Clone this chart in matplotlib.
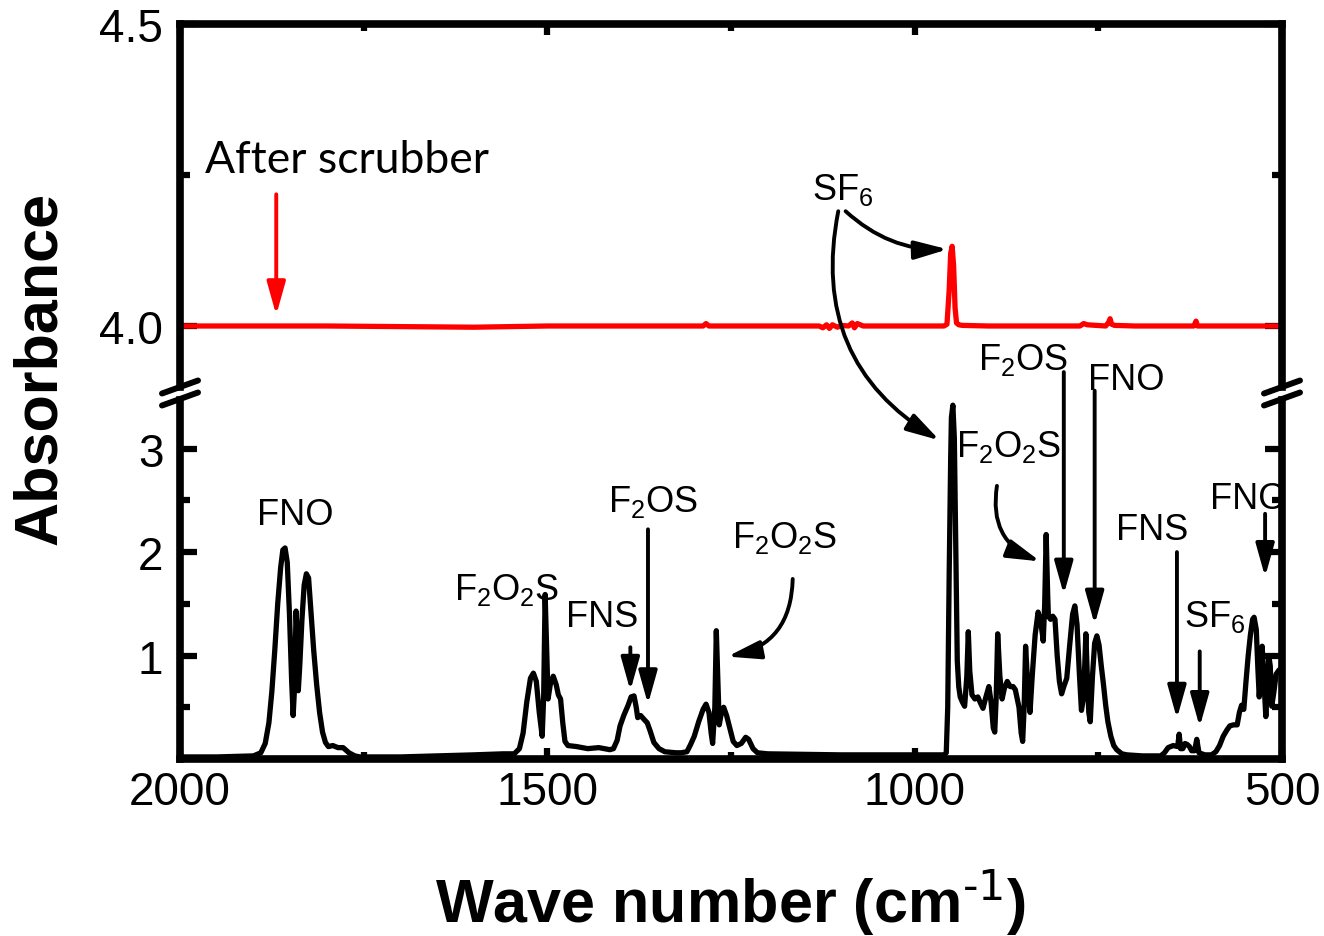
import matplotlib
matplotlib.use("Agg")
import matplotlib.pyplot as plt
from matplotlib.lines import Line2D
from matplotlib.ticker import MultipleLocator, FixedLocator, FormatStrFormatter

plt.rcParams["font.family"] = ["Liberation Sans", "DejaVu Sans"]
plt.rcParams["mathtext.default"] = "regular"

# FTIR spectrum before the scrubber (absorbance, lower segment of the axis)
wn_before = [
    2000, 1950, 1900, 1890, 1884, 1879, 1875, 1871, 1867, 1863, 1860, 1857,
    1854, 1851, 1848, 1846, 1844, 1842, 1840, 1839, 1837, 1834, 1831, 1828,
    1825, 1822, 1818, 1814, 1810, 1806, 1802, 1798, 1792, 1785, 1778, 1770,
    1762, 1755, 1700, 1650, 1600, 1560, 1545, 1538, 1533, 1528, 1523, 1519,
    1515, 1511, 1507, 1505, 1503, 1501, 1499, 1496, 1492, 1488, 1485, 1482,
    1479, 1476, 1472, 1460, 1445, 1430, 1415, 1410, 1405, 1401, 1396, 1390,
    1386, 1382, 1379, 1377, 1373, 1368, 1364, 1360, 1355, 1348, 1340, 1325,
    1318, 1310, 1305, 1300, 1294, 1288, 1284, 1280, 1277, 1275, 1272, 1270,
    1268, 1266, 1263, 1260, 1256, 1251, 1247, 1242, 1236, 1230, 1226, 1220,
    1214, 1200, 1100, 1000, 960, 957, 955, 953, 951, 950, 948, 946,
    944, 942, 940, 938, 935, 932, 929, 927, 925, 922, 918, 914,
    911, 907, 903, 899, 896, 893, 891, 889, 887, 884, 881, 878,
    874, 870, 866, 863, 858, 855, 853, 851, 849, 846, 843, 840,
    836, 832, 829, 826, 825, 823, 821, 819, 818, 815, 812, 809,
    806, 803, 800, 797, 793, 789, 785, 782, 779, 776, 773, 770,
    767, 765, 763, 761, 758, 755, 752, 749, 746, 743, 740, 737,
    733, 729, 725, 718, 711, 690, 665, 660, 655, 648, 642, 640,
    638, 635, 632, 629, 626, 623, 619, 616, 613, 605, 596, 590,
    585, 580, 575, 571, 566, 561, 558, 555, 552, 549, 546, 543,
    540, 538, 535, 533, 531, 529, 527, 525, 522, 520, 518, 516,
    514, 511, 508, 504, 500,
]
abs_before = [
    0.02, 0.02, 0.03, 0.06, 0.15, 0.35, 0.65, 1.05, 1.50, 1.85, 2.02, 2.04,
    1.90, 1.40, 0.75, 0.42, 0.70, 1.43, 1.10, 0.66, 0.90, 1.35, 1.68, 1.79,
    1.75, 1.45, 1.05, 0.72, 0.45, 0.26, 0.16, 0.12, 0.13, 0.11, 0.11, 0.06,
    0.03, 0.02, 0.02, 0.03, 0.04, 0.05, 0.05, 0.10, 0.25, 0.55, 0.78, 0.83,
    0.75, 0.45, 0.22, 0.60, 1.59, 1.10, 0.58, 0.72, 0.80, 0.72, 0.62, 0.58,
    0.35, 0.17, 0.13, 0.12, 0.10, 0.11, 0.09, 0.10, 0.18, 0.32, 0.42, 0.52,
    0.60, 0.61, 0.50, 0.40, 0.42, 0.38, 0.35, 0.27, 0.16, 0.10, 0.07, 0.06,
    0.06, 0.07, 0.14, 0.22, 0.36, 0.48, 0.53, 0.45, 0.25, 0.15, 0.50, 1.24,
    0.80, 0.33, 0.45, 0.50, 0.42, 0.28, 0.17, 0.13, 0.15, 0.21, 0.19, 0.10,
    0.06, 0.05, 0.04, 0.04, 0.04, 0.06, 0.50, 1.80, 2.90, 3.30, 3.42, 3.10,
    2.00, 0.95, 0.70, 0.60, 0.55, 0.51, 0.80, 1.23, 0.85, 0.62, 0.58, 0.60,
    0.55, 0.49, 0.60, 0.70, 0.55, 0.30, 0.26, 0.60, 1.21, 0.80, 0.58, 0.68,
    0.75, 0.70, 0.70, 0.67, 0.50, 0.25, 0.17, 0.50, 1.09, 0.70, 0.45, 0.80,
    1.20, 1.42, 1.35, 1.20, 1.14, 1.50, 2.17, 1.60, 1.38, 1.35, 1.38, 1.35,
    1.00, 0.75, 0.63, 0.70, 0.78, 1.10, 1.40, 1.48, 1.30, 0.85, 0.47, 0.60,
    1.21, 0.80, 0.45, 0.36, 0.80, 1.12, 1.19, 1.10, 0.90, 0.72, 0.52, 0.36,
    0.22, 0.13, 0.09, 0.05, 0.04, 0.03, 0.03, 0.06, 0.11, 0.13, 0.12, 0.24,
    0.10, 0.10, 0.15, 0.14, 0.12, 0.08, 0.08, 0.19, 0.06, 0.04, 0.04, 0.07,
    0.13, 0.22, 0.28, 0.32, 0.33, 0.33, 0.45, 0.52, 0.48, 0.75, 1.00, 1.20,
    1.35, 1.37, 1.25, 0.90, 0.60, 0.80, 1.09, 0.80, 0.41, 0.70, 1.00, 0.90,
    0.51, 0.65, 0.82, 0.86, 0.85,
]

# spectrum after the scrubber (upper segment of the axis)
wn_after = [
    2000, 1900, 1800, 1700, 1600, 1500, 1400, 1300, 1288, 1284, 1280, 1200,
    1130, 1125, 1120, 1116, 1112, 1105, 1100, 1090, 1085, 1082, 1078, 1070,
    960, 956, 953, 951, 949, 947, 945, 943, 940, 935, 900, 800,
    775, 770, 765, 740, 736, 734, 732, 728, 700, 620, 617, 615,
    600, 500,
]
abs_after = [
    4.000, 4.000, 4.000, 3.999, 3.998, 4.000, 4.000, 4.000, 4.000, 4.004, 4.000, 4.000,
    4.000, 3.997, 4.002, 3.996, 4.002, 3.998, 4.001, 4.000, 4.005, 3.997, 4.004, 4.000,
    4.000, 4.003, 4.060, 4.120, 4.132, 4.100, 4.030, 4.005, 4.002, 4.001, 4.000, 4.000,
    4.000, 4.004, 4.002, 4.000, 4.006, 4.012, 4.003, 4.001, 4.000, 4.000, 4.008, 4.000,
    4.000, 4.000,
]

W, H = 1324, 937
fig = plt.figure(figsize=(W / 100, H / 100), dpi=100)


def box(left, top, right, bottom):
    return [left / W, 1 - bottom / H, (right - left) / W, (bottom - top) / H]


ax_lo = fig.add_axes(box(180, 401, 1282, 760))
ax_hi = fig.add_axes(box(180, 25, 1282, 388))
for ax in (ax_lo, ax_hi):
    ax.set_facecolor("none")
    ax.set_xlim(2000, 500)
    for s in ax.spines.values():
        s.set_linewidth(5.5)
    ax.xaxis.set_major_locator(MultipleLocator(500))
    ax.xaxis.set_minor_locator(MultipleLocator(250))
    ax.tick_params(axis="both", which="both", direction="in", width=4.5,
                   labelsize=33, left=True, right=True)
    ax.tick_params(axis="y", which="major", length=12, pad=12)
    ax.tick_params(axis="y", which="minor", length=7)
    ax.tick_params(axis="x", which="major", length=8, pad=8)
    ax.tick_params(axis="x", which="minor", length=5)

ax_lo.set_ylim(0, 3.47)
ax_lo.spines["top"].set_visible(False)
ax_lo.tick_params(axis="x", which="both", top=False, bottom=True)
ax_lo.yaxis.set_major_locator(FixedLocator([1, 2, 3]))
ax_lo.yaxis.set_minor_locator(FixedLocator([0.5, 1.5, 2.5]))

ax_hi.set_ylim(3.899, 4.5)
ax_hi.spines["bottom"].set_visible(False)
ax_hi.tick_params(axis="x", which="both", top=True, bottom=False,
                  labelbottom=False)
ax_hi.yaxis.set_major_locator(FixedLocator([4.0, 4.5]))
ax_hi.yaxis.set_minor_locator(FixedLocator([4.25]))
ax_hi.yaxis.set_major_formatter(FormatStrFormatter("%.1f"))

ax_lo.plot(wn_before, abs_before, color="black", lw=3.8,
           solid_joinstyle="round", clip_on=False)
ax_hi.plot(wn_after, abs_after, color="red", lw=3.8, solid_joinstyle="round")

# axis break marks on both spines
for xc in (180, 1282):
    for yc in (388, 400):
        fig.add_artist(Line2D([(xc - 18) / W, (xc + 18) / W],
                              [1 - (yc + 6.5) / H, 1 - (yc - 6.5) / H],
                              transform=fig.transFigure, color="black",
                              lw=4.3, solid_capstyle="round"))

lab = dict(fontsize=26, ha="center", va="baseline", annotation_clip=False)
arrow = dict(arrowstyle="-|>,head_length=1.0,head_width=0.28", color="black",
             lw=2.8, shrinkA=0, shrinkB=0, mutation_scale=20)


def label(ax, text, x, y, tip=None, rad=0.0, start=None, **kw):
    ax.annotate(text, xy=(x, y), **lab, **kw)
    if tip is not None:
        ax.annotate("", xy=tip, xytext=start, annotation_clip=False,
                    arrowprops=dict(arrow,
                                    connectionstyle=f"arc3,rad={rad}"))


# lower panel labels
label(ax_lo, "FNO", 1843, 2.27)
label(ax_lo, "F$_2$O$_2$S", 1556, 1.55)
label(ax_lo, "FNS", 1426, 1.29, tip=(1387, 0.66), start=(1387, 1.08))
label(ax_lo, "F$_2$OS", 1356, 2.40, tip=(1363, 0.53), start=(1363, 2.22))
label(ax_lo, "F$_2$O$_2$S", 1177, 2.05, tip=(1255, 0.99), start=(1166, 1.74),
      rad=-0.4)
label(ax_lo, "F$_2$O$_2$S", 872, 2.93, tip=(829, 1.91), start=(888, 2.64),
      rad=0.4)
label(ax_lo, "F$_2$OS", 853, 3.77, tip=(797, 1.59), start=(797, 3.74))
label(ax_lo, "FNO", 712, 3.58, tip=(755, 1.30), start=(755, 3.56))
label(ax_lo, "FNS", 677, 2.13, tip=(643, 0.39), start=(643, 2.0))
label(ax_lo, "SF$_6$", 591, 1.29, tip=(612, 0.31), start=(612, 1.04))
label(ax_lo, "FNO", 546, 2.43, tip=(523, 1.76), start=(523, 2.37))

# upper panel: SF6 marker pointing at both spectra
label(ax_hi, "SF$_6$", 1098, 4.21, tip=(955, 4.127), start=(1094, 4.19),
      rad=0.2)
ax_hi.annotate("", xy=(966, 3.08), xycoords=ax_lo.transData,
               xytext=(1104, 4.19), textcoords="data", annotation_clip=False,
               arrowprops=dict(arrow, connectionstyle="arc3,rad=0.35"))

ax_hi.text(1966, 4.255, "After scrubber", fontsize=32, family="Lato",
           ha="left", va="baseline")
ax_hi.annotate("", xy=(1869, 4.018), xytext=(1869, 4.218),
               arrowprops=dict(arrow, color="red"))

fig.text(40 / W, 1 - 368 / H, "Absorbance", rotation=90, fontsize=44,
         fontweight="bold", ha="center", va="center")
fig.text(730 / W, 1 - 923 / H, r"Wave number (cm$^{\text{-1}}$)",
         fontsize=44, fontweight="bold", ha="center", va="baseline")

fig.savefig("out.png", dpi=100)
